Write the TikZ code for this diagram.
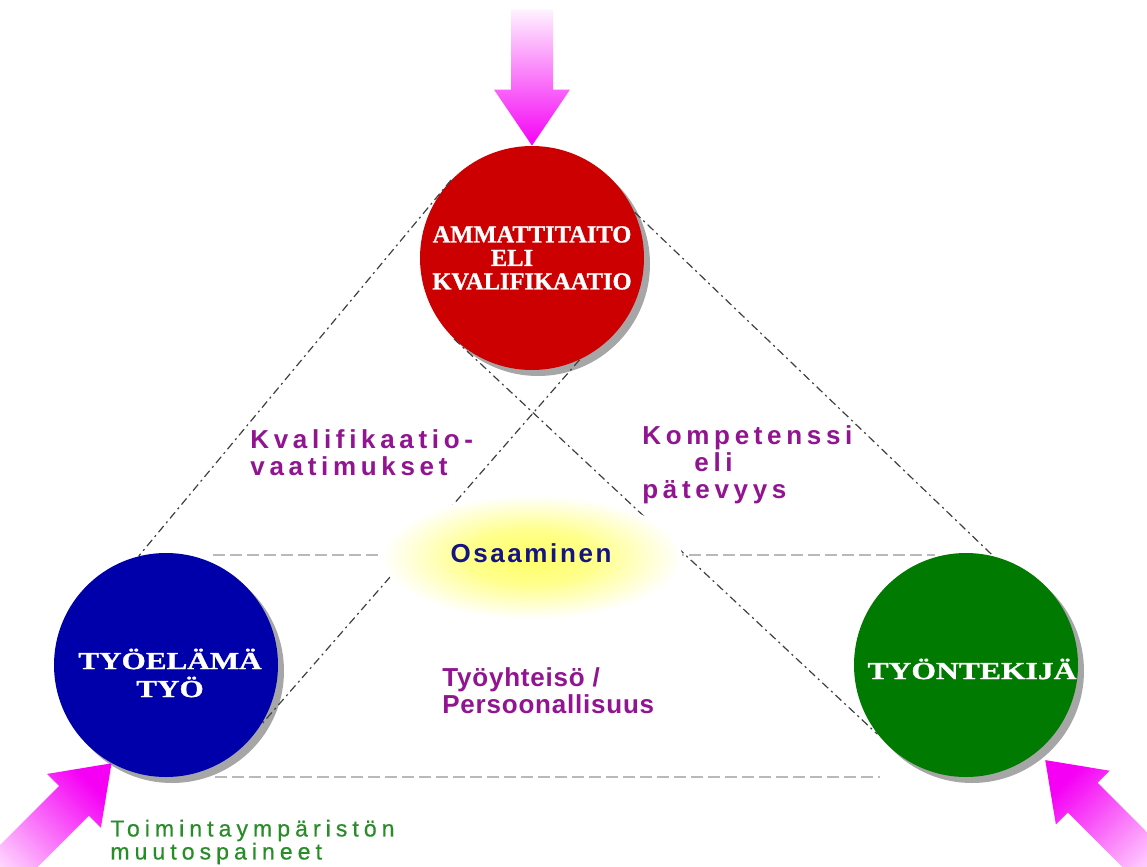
\documentclass[tikz,border=0pt]{standalone}
\usepackage{fontspec}
\setmainfont{Liberation Serif}
\newfontfamily\heavyserif[FakeBold=1]{Liberation Serif}
\newfontfamily\spaced[LetterSpace=18]{Liberation Sans}
\newfontfamily\spacedn[LetterSpace=3]{Liberation Sans}
\newfontfamily\spacedo[LetterSpace=10]{Liberation Sans}
\newfontfamily\spacedg[LetterSpace=22,FakeBold=0.6]{Liberation Sans}
\usetikzlibrary{shadows,calc}
\definecolor{cred}{RGB}{204,0,0}
\definecolor{cblue}{RGB}{0,0,170}
\definecolor{cgreen}{RGB}{0,122,0}
\definecolor{cpurple}{RGB}{145,20,145}
\definecolor{cnavy}{RGB}{20,20,130}
\definecolor{ctext}{RGB}{40,140,40}
\definecolor{cmag}{RGB}{245,0,245}
\pgfdeclareradialshading{glow}{\pgfpoint{0bp}{0bp}}{color(0bp)=(yellow!60); color(11bp)=(yellow!45); color(25bp)=(white); color(50bp)=(white)}
\begin{document}
\begin{tikzpicture}[x=0.5pt,y=-0.5pt,
  ball/.style={circle, minimum size=112pt, inner sep=0pt, draw=none,
    drop shadow={shadow xshift=3pt, shadow yshift=-3pt, fill=gray!70, opacity=1}},
  balltext/.style={text=white, inner sep=0pt, align=center,
    font=\heavyserif\bfseries\fontsize{12.25}{11.75}\selectfont},
  ptext/.style={text=cpurple, inner sep=0pt, align=left,
    font=\spaced\bfseries\fontsize{13}{13.5}\selectfont},
  gtext/.style={text=ctext, inner sep=0pt, align=left,
    font=\spacedg\fontsize{11.5}{11.5}\selectfont},
  diag/.style={draw=black!75, line width=0.6pt, dash pattern=on 4pt off 2pt on 1pt off 2pt},
  hline/.style={draw=gray!55, line width=1pt, dash pattern=on 6pt off 2.5pt}
]
\fill[white] (0,0) rectangle (1147,867);
\useasboundingbox (0,0) rectangle (1147,867);
\clip (0,0) rectangle (1147,867);

% circles
\node[ball, fill=cred]   (red)   at (532,258) {};
\node[ball, fill=cblue]  (blue)  at (166,665) {};
\node[ball, fill=cgreen] (green) at (966,665) {};

% horizontal dashed lines
\coordinate (hl1) at (213,555);
\coordinate (hr1) at (935,555);
\coordinate (hl2) at (215,777);
\coordinate (hr2) at (880,777);
\draw[hline] (hl1) -- (hr1);
\draw[hline] (hl2) -- (hr2);

% diagonal dashed lines
\draw[diag] (red.136) -- (blue.104);
\draw[diag] (red.24) -- (green.76);
\draw[diag] (red.226) -- (green.218);
\draw[diag] (red.295) -- (blue.328);

% glow
\shade[shading=glow] (532,557) ellipse [x radius=150, y radius=62];
\node[inner sep=0pt, text=cnavy, font=\spacedo\bfseries\fontsize{13}{13.5}\selectfont] (osa) at (531,553) {Osaaminen};

% circle texts
\node[balltext] (redtext) at (532,258) {AMMATTITAITO\\\hspace*{-20pt}ELI\\KVALIFIKAATIO};
\node[balltext, font=\heavyserif\bfseries\fontsize{12.25}{14}\selectfont] (bluetext) at ($(blue)+(4,8)$) {\scalebox{1.27}[1]{TYÖELÄMÄ}\\\scalebox{1.27}[1]{TYÖ}};
\node[balltext] (greentext) at ($(green)+(6,4)$) {\scalebox{1.29}[1]{TYÖNTEKIJÄ}};

% purple labels
\node[ptext, anchor=west] (kval) at (250,453) {Kvalifikaatio-\\vaatimukset};
\node[ptext, anchor=west] (komp) at (642,465) {Kompetenssi\\\hspace*{26pt}eli\\pätevyys};
\node[ptext, anchor=west, font=\spacedn\bfseries\fontsize{13}{13.5}\selectfont] (tyo) at (442,691) {Työyhteisö /\\Persoonallisuus};
\node[gtext, anchor=west] (toim) at (110,842) {Toimintaympäristön\\muutospaineet};

% magenta arrows
\begin{scope}[shift={(red.north)}, rotate=-90]
  \shade[top color=cmag!5, middle color=cmag!75, bottom color=cmag]
    (0,0) -- (-56,-38) -- (-56,-21) -- (-136,-21) -- (-136,21) -- (-56,21) -- (-56,38) -- cycle;
\end{scope}
\begin{scope}[shift={(blue.241)}, rotate=45]
  \shade[top color=cmag, middle color=cmag!70, bottom color=cmag!5, shading angle=-45]
    (0,0) -- (-53,-38) -- (-53,-21) -- (-175,-21) -- (-175,21) -- (-53,21) -- (-53,38) -- cycle;
\end{scope}
\begin{scope}[shift={($(green.310)+(7,9)$)}, rotate=135]
  \shade[top color=cmag, middle color=cmag!70, bottom color=cmag!5, shading angle=45]
    (0,0) -- (-53,-38) -- (-53,-21) -- (-175,-21) -- (-175,21) -- (-53,21) -- (-53,38) -- cycle;
\end{scope}
\end{tikzpicture}
\end{document}
